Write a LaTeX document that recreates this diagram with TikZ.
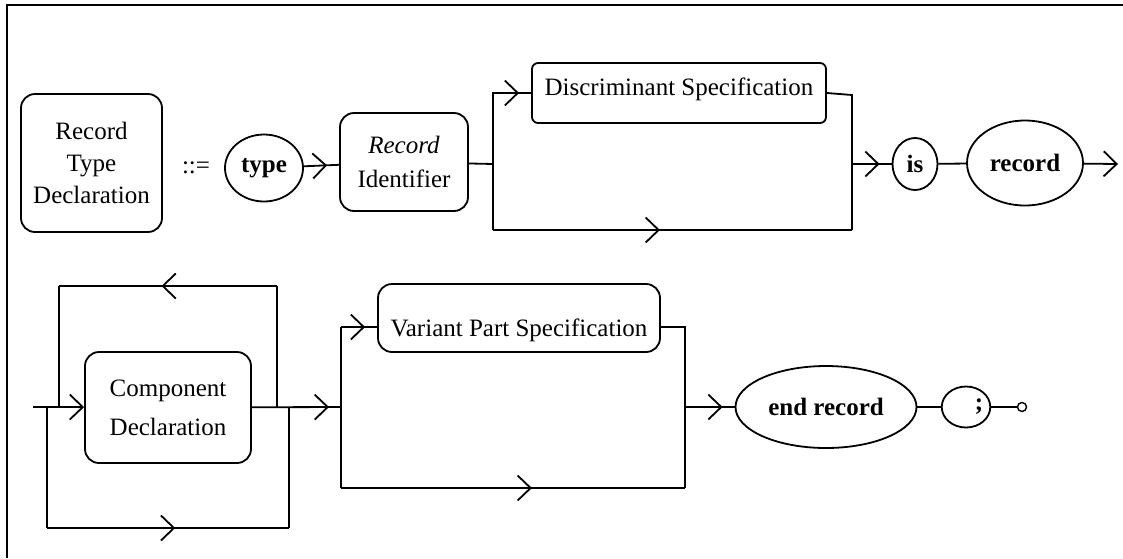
\documentclass[tikz,border=0pt]{standalone}
\usepackage{fontspec}
\setmainfont{Liberation Serif}
\usetikzlibrary{arrows.meta,shapes.geometric,decorations.markings}

\begin{document}
\begin{tikzpicture}[x=0.5pt,y=-0.5pt,line width=0.9pt,>={Straight Barb[length=6.5pt,width=12.5pt]},font=\fontsize{12.5}{16}\selectfont]
    \useasboundingbox (0,0) rectangle (1123,558);
    \tikzset{box/.style={draw,rounded corners=7pt,inner sep=0pt,align=center}}
    \tikzset{kw/.style={draw,ellipse,inner sep=0pt,font=\fontsize{12.5}{16}\selectfont\bfseries}}
    \tikzset{arr/.style={postaction={decorate},decoration={markings,mark=at position -6pt with {\arrow{>}}}}}
    \tikzset{midarr/.style={postaction={decorate},decoration={markings,mark=at position #1 with {\arrow{>}}}}}

    \draw (7,558) -- (7,5) -- (1123,5);

    % first row
    \node[box,minimum width=70.5pt,minimum height=69pt] (rtd) at (91.5,163) {Record\\Type\\Declaration};
    \node (def) at (196,168) {::=};
    \node[kw,minimum width=39pt,minimum height=33.5pt] (type) at (264,168) {type};
    \node[box,minimum width=64pt,minimum height=49pt] (rid) at (404,162) {\textit{Record}\\[1pt]Identifier};
    \node[box,rounded corners=3pt,minimum width=147pt,minimum height=30pt,text height=9pt,text depth=7pt] (disc) at (679,93) {Discriminant Specification};
    \node[kw,minimum width=22.5pt,minimum height=26pt] (is) at (915,164) {is};
    \node[kw,minimum width=58pt,minimum height=42.5pt] (rec) at (1025,163) {record};
    \coordinate (s1) at (493,164);
    \coordinate (s1b) at (493,230);
    \coordinate (j1t) at (852,95);
    \coordinate (j1) at (852,164);
    \coordinate (j1b) at (852,230);
    \coordinate (e1) at (1118,164);

    % second row
    \node[box,minimum width=83pt,minimum height=55.5pt] (comp) at (168,407.5) {Component\\[3.5pt]Declaration};
    \node[box,minimum width=141pt,minimum height=34pt,text height=18pt,text depth=0pt] (var) at (519,318) {Variant Part Specification};
    \node[kw,minimum width=90.5pt,minimum height=41pt] (endrec) at (826,407) {end record};
    \node[kw,minimum width=23pt,minimum height=20.5pt] (semi) at (966,407) {\hspace*{13pt};};
    \node[draw,circle,inner sep=0pt,minimum size=4.5pt,line width=0.7pt] (stop) at (1022,407) {};
    \coordinate (c0) at (33,407);
    \coordinate (b0) at (47,407);
    \coordinate (b0b) at (47,528);
    \coordinate (l1) at (59,407);
    \coordinate (l1t) at (59,286);
    \coordinate (l2t) at (277,286);
    \coordinate (l2) at (277,407);
    \coordinate (b1b) at (289,528);
    \coordinate (b1) at (289,407);
    \coordinate (s2) at (341,407);
    \coordinate (v1) at (341,327);
    \coordinate (v2) at (341,488);
    \coordinate (v3) at (685,327);
    \coordinate (s3) at (685,407);
    \coordinate (v4) at (685,488);

    \path (type) edge [arr] (rid);
    \draw (rid) -- (s1) -- (s1b);
    \draw [arr] (s1) |- (disc);
    \draw (disc.east) -- (j1t) -- (j1b);
    \draw [midarr=0.465] (s1b) -- (j1b);
    \path (j1) edge [arr] (is);
    \path (is) edge (rec);
    \draw [->] (rec) -- (e1);

    \draw (c0) -- (l1);
    \draw [->] (l1) -- (comp);
    \draw (l2) -- (l2t);
    \draw [midarr=0.53] (l2t) -- (l1t);
    \draw (l1t) -- (l1);
    \draw (b0) -- (b0b);
    \draw [midarr=0.53] (b0b) -- (b1b);
    \draw (b1b) -- (b1);
    \path (comp) edge [arr] (s2);
    \draw (v2) -- (v1);
    \draw [arr] (v1) -- (v1 -| var.west);
    \draw (v1 -| var.east) -- (v3) -- (v4);
    \draw [midarr=0.555] (v2) -- (v4);
    \path (s3) edge [arr] (endrec);
    \path (endrec) edge (semi);
    \path (semi) edge (stop);
\end{tikzpicture}
\end{document}
